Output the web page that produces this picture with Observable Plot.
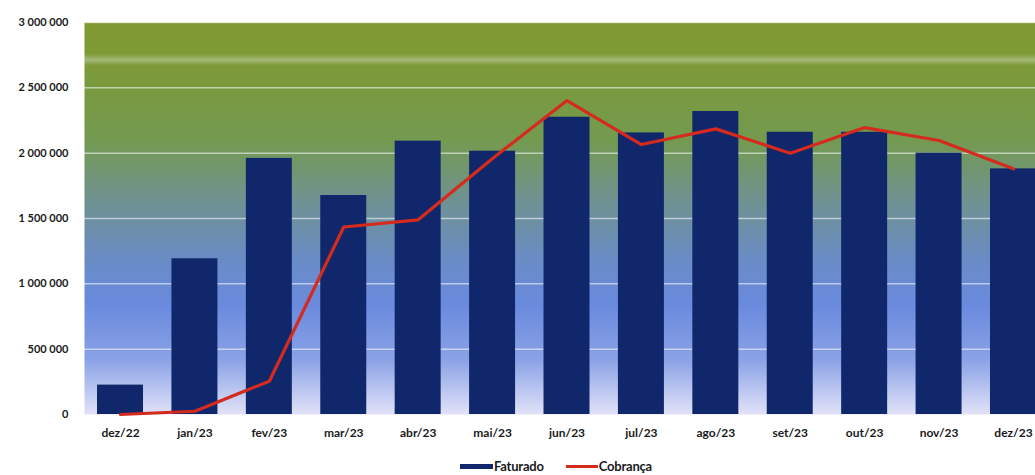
<!DOCTYPE html>
<html>
<head>
<meta charset="utf-8">
<script src="https://cdn.jsdelivr.net/npm/d3@7"></script>
<script src="https://cdn.jsdelivr.net/npm/@observablehq/plot@0.6"></script>
<style>
  html, body { margin: 0; padding: 0; background: #fff; overflow: hidden; width: 1035px; height: 475px; }
  #chart { position: relative; width: 1035px; }
  #chart svg { display: block; max-width: none !important; }
  .legend { position: absolute; top: 458px; left: 0; width: 1112px; display: flex; justify-content: center; gap: 22px;
            font: 700 13px Lato, "Open Sans", sans-serif; color: #1a1a1a; letter-spacing: -0.2px; }
  .legend span { display: inline-flex; align-items: center; }
  .sw-bar { display: inline-block; width: 33px; height: 5px; background: #10286b; margin-right: 1px; }
  .sw-line { display: inline-block; width: 32px; height: 3px; background: #d52b1e; margin-right: 1px; }
</style>
</head>
<body>
<div id="chart"></div>
<script>
const months = ["dez/22","jan/23","fev/23","mar/23","abr/23","mai/23","jun/23","jul/23","ago/23","set/23","out/23","nov/23","dez/23"];
const faturado = [225000, 1192000, 1960000, 1676000, 2092000, 2015000, 2275000, 2155000, 2319000, 2160000, 2160000, 2000000, 1880000];
const cobranca = [0, 25000, 255000, 1435000, 1490000, 1960000, 2403000, 2066000, 2186000, 2000000, 2196000, 2097000, 1880000];
const yTicks = [0, 500000, 1000000, 1500000, 2000000, 2500000, 3000000];

const data = months.map((m, i) => ({month: m, faturado: faturado[i], cobranca: cobranca[i]}));
const fmt = v => d3.format(",")(v).replace(/,/g, " ");

const plot = Plot.plot({
  width: 1049,
  height: 450,
  marginLeft: 84,
  marginRight: 0,
  marginTop: 22,
  marginBottom: 36,
  style: {fontFamily: "Lato, 'Open Sans', sans-serif", fontWeight: 700, color: "#1a1a1a", background: "transparent", maxWidth: "none"},
  x: {domain: months, paddingInner: 0.382, paddingOuter: 0.175, round: false, label: null, tickSize: 0, tickPadding: 14},
  y: {domain: [0, 3000000], ticks: yTicks, tickFormat: fmt, label: null, tickSize: 0, tickPadding: 16},
  marks: [
    Plot.frame({fill: "url(#bggrad)", stroke: null}),
    Plot.gridY(yTicks.filter(d => d > 0), {stroke: "#ffffff", strokeOpacity: 0.55, strokeWidth: 1.5}),
    Plot.barY(data, {x: "month", y: "faturado", fill: "#10286b"}),
    Plot.lineY(data, {x: "month", y: "cobranca", stroke: "#d52b1e", strokeWidth: 3.2, strokeLinejoin: "round"}),
    Plot.axisX({fontSize: 12, tickSize: 0, tickPadding: 14}),
    Plot.axisY({ticks: yTicks, tickFormat: fmt, fontSize: 11, tickSize: 0, tickPadding: 16})
  ]
});

const ns = "http://www.w3.org/2000/svg";
const defs = document.createElementNS(ns, "defs");
const grad = document.createElementNS(ns, "linearGradient");
grad.setAttribute("id", "bggrad");
grad.setAttribute("x1", "0"); grad.setAttribute("y1", "0");
grad.setAttribute("x2", "0"); grad.setAttribute("y2", "1");
[
  [0.00, "#809a32"],
  [0.08, "#7e9a35"],
  [0.095, "#a4b878"],
  [0.11, "#7d9a37"],
  [0.30, "#749a50"],
  [0.45, "#6f9290"],
  [0.60, "#6a8cc4"],
  [0.72, "#6a8ade"],
  [0.86, "#8aa2e6"],
  [0.95, "#c2cbf2"],
  [1.00, "#e2e2f8"]
].forEach(([o, c]) => {
  const s = document.createElementNS(ns, "stop");
  s.setAttribute("offset", o);
  s.setAttribute("stop-color", c);
  grad.appendChild(s);
});
defs.appendChild(grad);
plot.insertBefore(defs, plot.firstChild);

const chart = document.getElementById("chart");
chart.appendChild(plot);

const legend = document.createElement("div");
legend.className = "legend";
legend.innerHTML = '<span><i class="sw-bar"></i>Faturado</span><span><i class="sw-line"></i>Cobrança</span>';
chart.appendChild(legend);
</script>
</body>
</html>
